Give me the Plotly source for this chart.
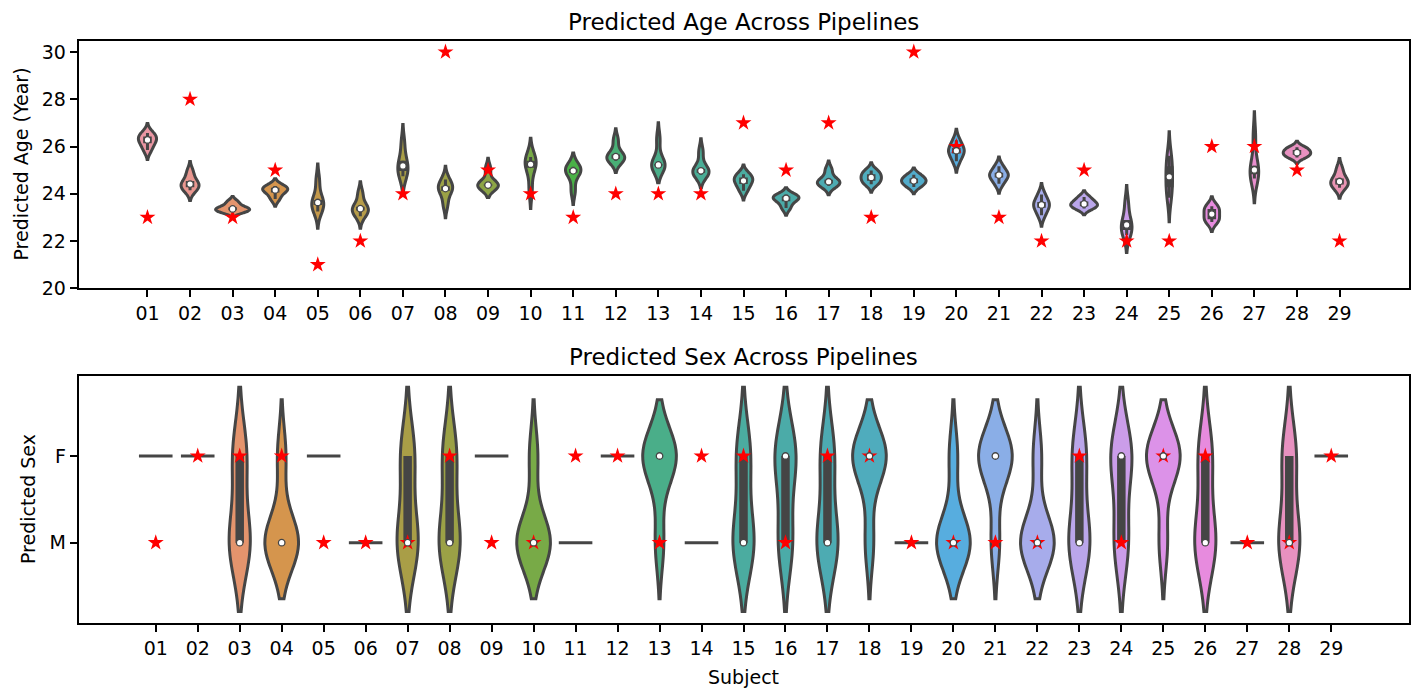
import colorsys
import math

import numpy as np
import plotly.graph_objects as go

# ---------------------------------------------------------------- data
subjects = ["01", "02", "03", "04", "05", "06", "07", "08", "09", "10",
            "11", "12", "13", "14", "15", "16", "17", "18", "19", "20",
            "21", "22", "23", "24", "25", "26", "27", "28", "29"]

# predicted age (years) from each of the five pipelines, one row per subject
age_pred = [
    [25.85, 26.14, 26.28, 26.42, 26.57],  # 01
    [24.15, 24.28, 24.41, 24.54, 24.93],  # 02
    [23.23, 23.30, 23.36, 23.43, 23.65],  # 03
    [23.78, 24.05, 24.16, 24.25, 24.33],  # 04
    [23.25, 23.52, 23.63, 23.74, 24.55],  # 05
    [23.05, 23.29, 23.37, 23.45, 24.00],  # 06
    [24.74, 24.96, 25.18, 25.40, 26.15],  # 07
    [23.55, 24.12, 24.22, 24.32, 24.60],  # 08
    [24.30, 24.34, 24.37, 24.40, 25.05],  # 09
    [24.17, 25.10, 25.25, 25.40, 25.56],  # 10
    [24.13, 24.89, 24.97, 25.05, 25.14],  # 11
    [25.40, 25.48, 25.57, 25.66, 26.26],  # 12
    [25.17, 25.20, 25.22, 25.25, 26.30],  # 13
    [24.81, 24.89, 24.97, 25.05, 25.77],  # 14
    [24.13, 24.41, 24.55, 24.69, 24.83],  # 15
    [23.40, 23.68, 23.81, 23.88, 23.94],  # 16
    [24.34, 24.43, 24.51, 24.59, 25.01],  # 17
    [24.40, 24.55, 24.69, 24.83, 24.98],  # 18
    [24.29, 24.45, 24.55, 24.65, 24.81],  # 19
    [25.38, 25.70, 25.82, 25.94, 26.26],  # 20
    [24.42, 24.69, 24.79, 24.89, 25.16],  # 21
    [23.09, 23.41, 23.53, 23.65, 23.97],  # 22
    [23.38, 23.47, 23.57, 23.67, 23.86],  # 23
    [22.26, 22.47, 22.68, 22.89, 23.60],  # 24
    [23.83, 24.28, 24.72, 25.16, 25.61],  # 25
    [22.81, 22.92, 23.14, 23.36, 23.47],  # 26
    [24.65, 24.83, 25.01, 25.19, 26.44],  # 27
    [25.53, 25.65, 25.74, 25.85, 25.97],  # 28
    [24.25, 24.39, 24.52, 24.65, 25.05],  # 29
]
age_true = [23, 28, 23, 25, 21, 22, 24, 30, 25, 24, 23, 24, 24, 24, 27,
            25, 27, 23, 30, 26, 23, 22, 25, 22, 22, 26, 26, 25, 22]

# predicted sex from each of the five pipelines, one string per subject
sex_pred = ["FFFFF", "FFFFF", "MMMFF", "MMMMF", "FFFFF", "MMMMM", "MMMFF",
            "MMMFF", "FFFFF", "MMMMF", "MMMMM", "FFFFF", "MFFFF", "MMMMM",
            "MMMFF", "MMFFF", "MMMFF", "MFFFF", "MMMMM", "MMMMF", "MFFFF",
            "MMMMF", "MMMFF", "MMFFF", "MFFFF", "MMMFF", "MMMMM", "MMMFF",
            "FFFFF"]
sex_true = ["M", "F", "F", "F", "M", "M", "M", "F", "M", "M", "F", "F", "M",
            "F", "F", "M", "F", "F", "M", "M", "M", "M", "F", "M", "F", "F",
            "M", "M", "F"]
sex_labels = ["M", "F"]

# ---------------------------------------------------------------- colours
# HUSL -> RGB (same maths as the husl module bundled with seaborn)
_M = [[3.2406, -1.5372, -0.4986],
      [-0.9689, 1.8758, 0.0415],
      [0.0557, -0.2040, 1.0570]]
_REF_U, _REF_V = 0.19784, 0.46834


def _max_chroma(L, H):
    hrad = math.radians(H)
    sin_h, cos_h = math.sin(hrad), math.cos(hrad)
    sub1 = (L + 16) ** 3 / 1560896.0
    sub2 = sub1 if sub1 > 0.008856 else L / 903.3
    result = float("inf")
    for m1, m2, m3 in _M:
        top = (0.99915 * m1 + 1.05122 * m2 + 1.14460 * m3) * sub2
        rbottom = 0.86330 * m3 - 0.17266 * m2
        lbottom = 0.12949 * m3 - 0.38848 * m1
        bottom = (rbottom * sin_h + lbottom * cos_h) * sub2
        for t in (0.0, 1.0):
            c = L * (top - 1.05122 * t) / (bottom + 0.17266 * sin_h * t)
            if 0.0 < c < result:
                result = c
    return result


def _f_inv(t):
    return t ** 3 if t ** 3 > 0.008856 else (116.0 * t - 16.0) / 903.3


def _from_linear(c):
    return 12.92 * c if c <= 0.0031308 else 1.055 * c ** (1 / 2.4) - 0.055


def husl_to_rgb(h, s, l):
    C = _max_chroma(l, h) / 100.0 * s
    u, v = math.cos(math.radians(h)) * C, math.sin(math.radians(h)) * C
    var_y = _f_inv((l + 16.0) / 116.0)
    var_u = u / (13.0 * l) + _REF_U
    var_v = v / (13.0 * l) + _REF_V
    Y = var_y
    X = -(9.0 * Y * var_u) / ((var_u - 4.0) * var_v - var_u * var_v)
    Z = (9.0 * Y - 15.0 * var_v * Y - var_v * X) / (3.0 * var_v)
    rgb = [_from_linear(r[0] * X + r[1] * Y + r[2] * Z) for r in _M]
    return [min(max(c, 0.0), 1.0) for c in rgb]


def palette(n, l=0.7, s=0.9, desat=0.75):
    hues = (np.linspace(0, 1, n + 1)[:-1] + 0.01) % 1 * 359
    out = []
    for h in hues:
        r, g, b = husl_to_rgb(h, s * 99, l * 99)
        hh, ll, ss = colorsys.rgb_to_hls(r, g, b)
        out.append(colorsys.hls_to_rgb(hh, ll, ss * desat))
    return out


def to_hex(rgb):
    return "#%02x%02x%02x" % tuple(int(round(c * 255)) for c in rgb)


rgb_colors = palette(len(subjects))
colors = [to_hex(c) for c in rgb_colors]
lum = min(colorsys.rgb_to_hls(*c)[1] for c in rgb_colors) * 0.6
gray = to_hex((lum, lum, lum))

# ---------------------------------------------------------------- helpers
FONT = "DejaVu Sans"
LW = 3            # violin outline / whisker width
BOX_LW = 8.5      # inner box width
HALF = 0.4        # half width of a violin slot in category units
pos = list(range(len(subjects)))


def bandwidth(v):
    v = np.asarray(v, float)
    return float(np.std(v, ddof=1) * len(v) ** (-1 / 5))


def inner_stats(v):
    v = np.asarray(v, float)
    q25, q50, q75 = np.percentile(v, [25, 50, 75])
    iqr = q75 - q25
    lo = v[v >= q25 - 1.5 * iqr].min()
    hi = v[v <= q75 + 1.5 * iqr].max()
    return lo, q25, q50, q75, hi


fig = go.Figure()


def add_panel(samples, truth, xa, ya, group):
    wx, wy, bx, by, mx, my = [], [], [], [], [], []
    sx, sy = [], []
    for i, vals in zip(pos, samples):
        vals = np.asarray(vals, float)
        if np.unique(vals).size == 1:
            # every pipeline agrees: a flat line across the slot
            sx += [i - HALF, i + HALF, None]
            sy += [vals[0], vals[0], None]
            continue
        # violins of one panel share a scale group, so the one with the
        # tallest density peak gets the full slot width (equal areas)
        fig.add_trace(go.Violin(
            x=[i] * len(vals), y=vals, xaxis=xa, yaxis=ya,
            bandwidth=bandwidth(vals), spanmode="soft",
            scalegroup=group, scalemode="width",
            points=False, box_visible=False, meanline_visible=False,
            fillcolor=colors[i], line=dict(color=gray, width=LW),
            opacity=1, hoverinfo="skip", showlegend=False))
        lo, q25, q50, q75, hi = inner_stats(vals)
        wx += [i, i, None]
        wy += [lo, hi, None]
        bx += [i, i, None]
        by += [q25, q75, None]
        mx.append(i)
        my.append(q50)
    common = dict(xaxis=xa, yaxis=ya, hoverinfo="skip", showlegend=False)
    fig.add_trace(go.Scatter(x=wx, y=wy, mode="lines",
                             line=dict(color=gray, width=LW), **common))
    fig.add_trace(go.Scatter(x=bx, y=by, mode="lines",
                             line=dict(color=gray, width=BOX_LW), **common))
    if sx:
        fig.add_trace(go.Scatter(x=sx, y=sy, mode="lines",
                                 line=dict(color=gray, width=LW), **common))
    fig.add_trace(go.Scatter(x=pos, y=truth, mode="markers",
                             marker=dict(symbol="star", size=12, color="red",
                                         line=dict(width=0)), **common))
    fig.add_trace(go.Scatter(x=mx, y=my, mode="markers",
                             marker=dict(symbol="circle", size=6.5,
                                         color="white",
                                         line=dict(color=gray, width=1.3)),
                             **common))


sex_code = {lab: k for k, lab in enumerate(sex_labels)}
sex_samples = [[sex_code[c] for c in s] for s in sex_pred]
sex_truth = [sex_code[c] for c in sex_true]

add_panel(age_pred, age_true, "x", "y", "age")
add_panel(sex_samples, sex_truth, "x2", "y2", "sex")

# ---------------------------------------------------------------- layout
W, H = 1418, 689
x_dom = [78.5 / W, 1408.5 / W]
top_dom = [1 - 288.3 / H, 1 - 40.7 / H]
bot_dom = [1 - 623.3 / H, 1 - 375.7 / H]

axis_common = dict(
    showline=True, mirror=True, linecolor="black", linewidth=1.5,
    ticks="outside", ticklen=7, tickwidth=1.5, tickcolor="black",
    showgrid=False, zeroline=False, automargin=False,
    tickfont=dict(family=FONT, size=19, color="black"),
)

fig.update_layout(
    width=W, height=H, margin=dict(l=0, r=0, t=0, b=0),
    paper_bgcolor="white", plot_bgcolor="white",
    # slot = 1 category; violins take 80% of it
    violinmode="overlay", violingap=1 - 2 * HALF, violingroupgap=0,
    showlegend=False,
    xaxis=dict(domain=x_dom, anchor="y", range=[-1.62, len(subjects) - 1 + 1.62],
               tickvals=pos, ticktext=subjects, **axis_common),
    yaxis=dict(domain=top_dom, anchor="x", range=[20, 30.478],
               tickvals=[20, 22, 24, 26, 28, 30], **axis_common),
    xaxis2=dict(domain=x_dom, anchor="y2", range=[-1.84, len(subjects) - 1 + 1.84],
                tickvals=pos, ticktext=subjects, **axis_common),
    yaxis2=dict(domain=bot_dom, anchor="x2", range=[-0.93, 1.926],
                tickvals=[0, 1], ticktext=sex_labels, **axis_common),
)

xc = (x_dom[0] + x_dom[1]) / 2
txt = dict(family=FONT, color="black")
annotations = [
    dict(text="Predicted Age Across Pipelines", x=xc, y=1 - 21.5 / H,
         font=dict(size=23, **txt)),
    dict(text="Predicted Sex Across Pipelines", x=xc, y=1 - 357 / H,
         font=dict(size=23, **txt)),
    dict(text="Subject", x=xc, y=1 - 676.5 / H, font=dict(size=19, **txt)),
    dict(text="Predicted Age (Year)", x=20 / W, y=1 - 164.5 / H,
         textangle=-90, font=dict(size=19, **txt)),
    dict(text="Predicted Sex", x=27.5 / W, y=1 - 499.5 / H,
         textangle=-90, font=dict(size=19, **txt)),
]
for a in annotations:
    fig.add_annotation(xref="paper", yref="paper", showarrow=False,
                       xanchor="center", yanchor="middle", **a)

fig.write_html("out.html")
